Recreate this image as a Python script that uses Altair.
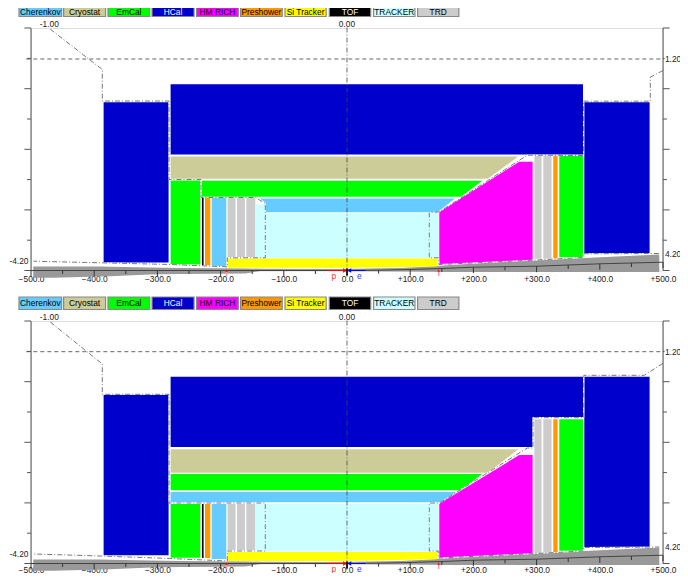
import altair as alt
import pandas as pd

FONT = "Liberation Sans"
PARTS = ["Cherenkov", "Cryostat", "EmCal", "HCal", "HM RICH", "Preshower",
         "Si Tracker", "TOF", "TRACKER", "TRD"]
COLORS = ["#66CCFF", "#CCCC99", "#00FF00", "#0000CC", "#FF00FF", "#FF9900",
          "#FFFF00", "#000000", "#CCFFFF", "#CCCCCC"]
BTN_LEFT = [-519, -448.4, -378.2, -308.5, -238, -168.4, -98.1, -28, 42.1, 111.7]
BTN_RIGHT = [-451.5, -382, -312, -242, -172, -102.5, -33, 37.5, 107.5, 177]
BTN_TEXT = ["black", "black", "black", "white", "black", "black", "black", "white", "black", "black"]

# each shape: part, z positions, upper edge, lower edge
SHAPES_A = [
    ("HCal", [-385.1, -282.3], [168.3, 168.3], [8, 8]),
    ("HCal", [-279.1, 373.4], [186.3, 186.3], [116, 116]),
    ("HCal", [375.5, 478.8], [168.3, 168.3], [17, 17]),
    ("Cryostat", [-279.1, 222.8, 271.0], [114, 114, 114], [91.7, 91.7, 114]),
    ("EmCal", [-229.4, 180.4, 214.1], [89.7, 89.7, 89.7], [73.7, 73.7, 89.7]),
    ("EmCal", [-279.1, -232.1], [90, 90], [6, 6]),
    ("TRACKER", [-144, -129.3, -129.3, 144.9], [66, 66, 57.3, 57.3], [12.7, 12.7, 12.7, 12.7]),
    ("Cherenkov", [-138, -129.3, -129.3, 143.4, 170.9], [72, 72, 72, 72, 72], [72, 68, 58.3, 58.3, 72]),
    ("Si Tracker", [-189.4, 0, 143.4], [12, 12, 12], [2.7, 2.7, 4]),
    ("TOF", [-229.4, -226.9], [72.7, 72.7], [5, 5]),
    ("Preshower", [-224.7, -216.3], [72.7, 72.7], [5, 5]),
    ("Cherenkov", [-214.2, -191], [72.7, 72.7], [4.3, 4.3]),
    ("TRD", [-188.9, -176.3], [72.7, 72.7], [13.3, 13.3]),
    ("TRD", [-174.1, -161.4], [72.7, 72.7], [13.3, 13.3]),
    ("TRD", [-159.3, -145.1], [72.7, 72.7], [13.3, 13.3]),
    ("HM RICH", [146, 272.6, 293.7], [58.7, 108.7, 108.7], [6, 9.7, 10.3]),
    ("TRD", [296.4, 307.9], [115, 115], [11.7, 11.7]),
    ("TRD", [310.6, 323.7], [115, 115], [11.7, 11.7]),
    ("Preshower", [326.4, 333.2], [115, 115], [12, 12]),
    ("EmCal", [335.9, 373.4], [115, 115], [13.3, 13.3]),
]
SHAPES_B = [
    ("HCal", [-385.1, -282.3], [168.8, 168.8], [8.2, 8.2]),
    ("HCal", [-279.1, 293.7, 293.7, 373.4], [186.8, 186.8, 186.8, 186.8], [116.5, 116.5, 146.5, 146.5]),
    ("HCal", [375.5, 478.8], [186.8, 186.8], [16.5, 16.5]),
    ("Cryostat", [-279.1, 222.8, 271.0], [114.2, 114.2, 114.2], [90.8, 90.8, 114.2]),
    ("EmCal", [-279.1, 180.4, 214.1], [89.5, 89.5, 89.5], [73.2, 73.2, 89.5]),
    ("Cherenkov", [-279.1, 151.9, 175.0], [71.5, 71.5, 71.5], [61.2, 61.2, 71.5]),
    ("EmCal", [-279.1, -232.1], [59.5, 59.5], [5.8, 5.8]),
    ("TOF", [-229.4, -226.9], [59.5, 59.5], [5.5, 5.5]),
    ("Preshower", [-224.7, -216.3], [59.5, 59.5], [5.5, 5.5]),
    ("Cherenkov", [-214.2, -191], [59.5, 59.5], [4.5, 4.5]),
    ("TRD", [-188.9, -176.3], [59.5, 59.5], [13.2, 13.2]),
    ("TRD", [-174.1, -161.4], [59.5, 59.5], [13.2, 13.2]),
    ("TRD", [-159.3, -145.1], [59.5, 59.5], [13.2, 13.2]),
    ("TRACKER", [-144, 144.9], [59.8, 59.8], [12.2, 12.2]),
    ("Si Tracker", [-189.4, 0, 143.4], [11.5, 11.5, 11.5], [2.5, 2.5, 4.2]),
    ("HM RICH", [146, 272.6, 293.7], [59.8, 108.5, 108.5], [5.5, 9.2, 9.8]),
    ("TRD", [296.4, 307.9], [144.2, 144.2], [10.5, 10.5]),
    ("TRD", [310.6, 323.7], [144.2, 144.2], [10.5, 10.5]),
    ("Preshower", [326.4, 333.2], [144.2, 144.2], [11.5, 11.5]),
    ("EmCal", [335.9, 373.4], [144.2, 144.2], [12.8, 12.8]),
]

# acceptance outlines
LEFT_A_Z = [-469.5, -387.2, -387.2, -281.6, -281.6, -231, -231, -145, -129.3, -129.3, -189.4, -189.4, -279.6, -390, -496]
LEFT_A_R = [241.3, 201, 169.5, 169.5, 91, 91, 73, 73, 67, 12.7, 12.7, 3.7, 6, 7.7, 9.3]
RIGHT_A_Z = [500, 479.9, 479.9, 374.4, 374.4, 285.3, 146, 130.2, 130.2, 144.9, 145.6, 294.3, 373.9, 373.9, 494]
RIGHT_A_R = [200, 193.3, 169.3, 169.3, 115, 115.3, 58.7, 57.7, 12.7, 12.7, 6, 10.3, 13, 16.7, 17]
LEFT_B_Z = [-469.5, -387.2, -387.2, -281.6, -281.6, -129.3, -129.3, -189.4, -189.4, -279.6, -390, -496]
LEFT_B_R = [241.5, 199.5, 169.2, 169.2, 60.5, 60.5, 12.5, 12.5, 2.5, 5, 7.5, 9.5]
RIGHT_B_Z = [500, 470.4, 374.7, 374.7, 294.3, 294.3, 285.3, 146, 130.2, 130.2, 144.5, 144.5, 294.3, 373.9, 373.9, 494]
RIGHT_B_R = [200.2, 188.2, 188.2, 145.8, 145.8, 115.5, 115.5, 60.5, 60.5, 12.5, 12.5, 5.5, 9.8, 12.5, 16, 16.5]

# grey support band and the bent beam line with its ticks
BAND_Z = [-496.4, -464.8, -390, -374.5, -311.2, -263.8, -160.9, -137.2, -10.6, 84.3, 131.8, 163.4, 258.4, 494.1]
BAND_TOP = [4, 4, 4, 3.8, 3, 2.6, 2, 1.8, 1.5, 2.5, 4, 5.5, 9, 16]
BAND_BOT = [-7.3, -7.3, -6, -5.7, -4, -3.5, -3, -0.5, -0.5, -1, -1.2, -1.5, -1.5, -1.5]
TICK_Z = [-500, -450, -400, -350, -300, -250, -200, -150, -100, -50, 0, 50, 100, 150, 200, 250, 300, 350, 400, 450, 500]
TICK_R = [0, 0, 0, 0, 0, 0, 0, 0, 0, 0, 0, 0.3, 1, 2, 3.3, 3.8, 4.3, 5.5, 6.7, 7.5, 8.3]
TICK_END = [-6, -3.5, -6, -3.5, -6, -3.5, -6, -3.5, -6, -3.5, -6, -3.2, -5, -1.5, -2.7, 0.3, -1.7, 1.5, 0.7, 3.5, 2.3]

R_TICKS = [0, 30.3, 60.6, 90.9, 121.2, 151.5, 181.8, 212.1, 242.5]
R_TICK_LEN = [10.5, 6.3, 10.5, 6.3, 10.5, 6.3, 10.5, 6.3, 10.5]
R_TICK_LEN_RIGHT = [10.5, 6.3, 10.5, 6.3, 10.5, 6.3, 10.5, 2.5, 10.5]
X_LABELS = [-500, -400, -300, -200, -100, 0, 100, 200, 300, 400, 500]

ETA_LABELS = ["-1.00", "0.00", "1.20", "-4.20", "4.20"]
ETA_Z = [-471, 0, 503, -504, 503]
ETA_ALIGN = ["center", "center", "left", "right", "left"]
ETA_R_A = [246.5, 246.5, 211.5, 9.5, 17]
ETA_R_B = [246.8, 246.8, 212, 9.2, 16.5]


xs = alt.Scale(domain=[-500, 500], nice=False, zero=False)
ys = alt.Scale(domain=[0, 242.5], nice=False, zero=False)
X = alt.X("z:Q", scale=xs, axis=None)
Y = alt.Y("r:Q", scale=ys, axis=None)
CS = alt.Scale(domain=PARTS, range=COLORS)


def shapes_df(shapes):
    rows = []
    for sid, (part, zz, top, bot) in enumerate(shapes):
        for i, (a, b, c) in enumerate(zip(zz, top, bot)):
            rows.append(dict(sid=sid, part=part, i=i, z=a, r=b, r2=c))
    return pd.DataFrame(rows)


def path_df(paths):
    rows = []
    for pid, (zz, rr) in enumerate(paths):
        for i, (a, b) in enumerate(zip(zz, rr)):
            rows.append(dict(pid=pid, i=i, z=a, r=b))
    return pd.DataFrame(rows)


def panel(shapes, outlines, eta_r, dash_r, label_pad, btn_text_r):
    base_axis = alt.Chart(pd.DataFrame({"z": X_LABELS, "r": [0] * 11})).mark_point(opacity=0).encode(
        x=alt.X("z:Q", scale=xs, axis=alt.Axis(
            values=X_LABELS, domain=False, ticks=False, grid=False, title=None,
            labelFont=FONT, labelFontSize=8.4, labelColor="#222222", labelPadding=label_pad,
            labelFlush=False, labelOverlap=False,
            labelExpr="datum.value > 0 ? '+' + format(datum.value, '.1f') : format(datum.value, '.1f')")),
        y=Y,
    )
    band = alt.Chart(pd.DataFrame({"z": BAND_Z, "r": BAND_TOP, "r2": BAND_BOT})).mark_area(
        color="#999999", opacity=1).encode(x=X, y=Y, y2="r2:Q")
    fills = alt.Chart(shapes_df(shapes)).mark_area(opacity=1).encode(
        x=X, y=Y, y2="r2:Q",
        color=alt.Color("part:N", scale=CS, legend=None),
        detail="sid:N")
    odf = path_df(outlines)
    under = alt.Chart(odf).mark_line(color="white", strokeWidth=1).encode(
        x=X, y=Y, detail="pid:N", order="i:Q")
    over = alt.Chart(odf).mark_line(color="#555555", strokeWidth=0.8, strokeDash=[5, 2, 1, 2]).encode(
        x=X, y=Y, detail="pid:N", order="i:Q")
    # vertical frame axes
    frame = alt.Chart(pd.DataFrame({"z": [-500, 500], "r": [0, 0], "r2": [242.5, 242.5]})).mark_rule(
        color="#555555", strokeWidth=1).encode(x=X, y=Y, y2="r2:Q")
    tl = alt.Chart(pd.DataFrame({"z": [-500] * 9, "z2": [-500 - v for v in R_TICK_LEN], "r": R_TICKS})).mark_rule(
        color="#555555", strokeWidth=1).encode(x=X, x2="z2:Q", y=Y)
    tr = alt.Chart(pd.DataFrame({"z": [500] * 9, "z2": [500 + v for v in R_TICK_LEN_RIGHT], "r": R_TICKS})).mark_rule(
        color="#555555", strokeWidth=1).encode(x=X, x2="z2:Q", y=Y)
    beam = alt.Chart(pd.DataFrame({"z": TICK_Z, "r": TICK_R})).mark_line(
        color="#444444", strokeWidth=1).encode(x=X, y=Y)
    ticks = alt.Chart(pd.DataFrame({"z": TICK_Z, "r": TICK_R, "r2": TICK_END})).mark_rule(
        color="#333333", strokeWidth=1).encode(x=X, y=Y, y2="r2:Q")
    dash = alt.Chart(pd.DataFrame({"z": [-507.4], "z2": [501], "r": [dash_r]})).mark_rule(
        color="#555555", strokeWidth=0.9, strokeDash=[4, 3]).encode(x=X, x2="z2:Q", y=Y)
    centre = alt.Chart(pd.DataFrame({"z": [0], "r": [243], "r2": [0]})).mark_rule(
        color="#444444", strokeWidth=0.8, strokeDash=[5, 2, 1, 2]).encode(x=X, y=Y, y2="r2:Q")
    etas = []
    for a in ["center", "left", "right"]:
        d = pd.DataFrame({"z": ETA_Z, "r": eta_r, "t": ETA_LABELS, "a": ETA_ALIGN})
        etas.append(alt.Chart(d[d.a == a]).mark_text(
            font=FONT, fontSize=8.4, color="#222222", align=a, baseline="middle").encode(x=X, y=Y, text="t:N"))
    # beam arrows and labels
    p_line = alt.Chart(pd.DataFrame({"z": [-31.5], "z2": [-1], "r": [0]})).mark_rule(
        color="#FF0000", strokeWidth=1).encode(x=X, x2="z2:Q", y=Y)
    e_line = alt.Chart(pd.DataFrame({"z": [1], "z2": [29], "r": [0]})).mark_rule(
        color="#0000FF", strokeWidth=1).encode(x=X, x2="z2:Q", y=Y)
    p_head = alt.Chart(pd.DataFrame({"z": [-3], "r": [0]})).mark_point(
        shape="triangle-right", filled=True, size=22, color="#FF0000", opacity=1).encode(x=X, y=Y)
    e_head = alt.Chart(pd.DataFrame({"z": [3.5], "r": [0]})).mark_point(
        shape="triangle-left", filled=True, size=22, color="#0000FF", opacity=1).encode(x=X, y=Y)
    bar0 = alt.Chart(pd.DataFrame({"z": [0], "r": [2], "r2": [-5]})).mark_rule(
        color="#000000", strokeWidth=1.6).encode(x=X, y=Y, y2="r2:Q")
    pk = alt.Chart(pd.DataFrame({"z": [-21], "r": [-5.5], "t": ["p"]})).mark_text(
        font=FONT, fontSize=8.4, color="#FF3333", baseline="middle").encode(x=X, y=Y, text="t:N")
    ek = alt.Chart(pd.DataFrame({"z": [19.5], "r": [-5], "t": ["e"]})).mark_text(
        font=FONT, fontSize=8.4, color="#3333FF", baseline="middle").encode(x=X, y=Y, text="t:N")
    ip = alt.Chart(pd.DataFrame({"z": [-190.5, 145], "r": [0, 0], "r2": [-5.5, -5.5]})).mark_rule(
        color="#FF9999", strokeWidth=1.5).encode(x=X, y=Y, y2="r2:Q")
    ip2 = alt.Chart(pd.DataFrame({"z": [-190.5, 145], "r": [0, 0]})).mark_point(
        shape="triangle-up", filled=True, size=7, color="#EE0000", opacity=1).encode(x=X, y=Y)
    # button row
    bd = pd.DataFrame({"part": PARTS, "z": BTN_LEFT, "z2": BTN_RIGHT, "r": [266.5] * 10, "r2": [254] * 10,
                       "mid": [(a + b) / 2 for a, b in zip(BTN_LEFT, BTN_RIGHT)],
                       "rm": [btn_text_r] * 10, "tc": BTN_TEXT})
    btn = alt.Chart(bd).mark_rect(stroke="#888888", strokeWidth=1.2).encode(
        x=X, x2="z2:Q", y=Y, y2="r2:Q", color=alt.Color("part:N", scale=CS, legend=None))
    btxt = alt.Chart(bd).mark_text(font=FONT, fontSize=8.4, baseline="middle").encode(
        x=alt.X("mid:Q", scale=xs, axis=None), y=alt.Y("rm:Q", scale=ys, axis=None),
        text="part:N", color=alt.Color("tc:N", scale=None))
    return alt.layer(base_axis, band, fills, under, over, frame, tl, tr, beam, ticks, dash, centre,
                     *etas, p_line, e_line, p_head, e_head, bar0, pk, ek, ip, ip2, btn, btxt
                     ).resolve_scale(color="independent").resolve_axis(x="independent").properties(width=632, height=242.5)


top = panel(SHAPES_A, [(LEFT_A_Z, LEFT_A_R), (RIGHT_A_Z, RIGHT_A_R)], ETA_R_A, 211.5, 4, 258.6)
bottom = panel(SHAPES_B, [(LEFT_B_Z, LEFT_B_R), (RIGHT_B_Z, RIGHT_B_R)], ETA_R_B, 211.8, 1.5, 260.2)

chart = alt.vconcat(top, bottom, spacing=50, bounds="flush").properties(
    padding={"left": 0, "top": -6, "right": -2, "bottom": -1}
).configure_view(stroke=None).configure(background="white")

chart.save("out.html", embed_options={"renderer": "svg", "actions": False})
